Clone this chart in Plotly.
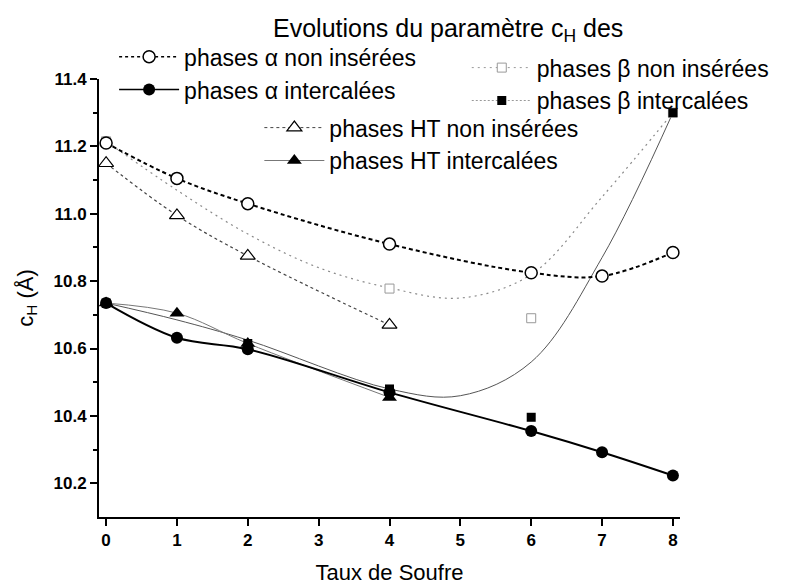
import plotly.graph_objects as go

# Taux de soufre et parametre c_H (Å)
x_alpha = [0, 1, 2, 4, 6, 7, 8]
alpha_non = [11.21, 11.105, 11.03, 10.91, 10.825, 10.815, 10.885]
alpha_int = [10.735, 10.632, 10.598, 10.47, 10.355, 10.292, 10.223]

x_beta_non = [0, 4, 6, 8]
beta_non = [11.215, 10.778, 10.69, 11.30]
x_beta_int = [0, 2, 4, 6, 8]
beta_int = [10.735, 10.615, 10.48, 10.396, 11.30]

# courbes lissees (B-spline du logiciel d'origine)
x_beta_non_curve = [0, 1, 2, 3, 4, 5, 6, 7, 8]
beta_non_curve = [11.215, 11.07, 10.94, 10.84, 10.78, 10.75, 10.82, 11.05, 11.30]
x_beta_int_curve = [0, 1, 2, 4, 5, 6, 7, 8]
beta_int_curve = [10.735, 10.685, 10.625, 10.48, 10.46, 10.56, 10.87, 11.30]

x_ht = [0, 1, 2, 4]
ht_non = [11.15, 10.995, 10.875, 10.67]
ht_int = [10.735, 10.705, 10.615, 10.455]

FONT = "Liberation Sans, Arial, sans-serif"

fig = go.Figure()

# --- courbes ---
fig.add_trace(go.Scatter(x=x_beta_non_curve, y=beta_non_curve, mode='lines', line_shape='spline',
                         line=dict(color='#8a8a8a', width=1.2, dash='2px,4px'), showlegend=False))
fig.add_trace(go.Scatter(x=x_beta_int_curve, y=beta_int_curve, mode='lines', line_shape='spline',
                         line=dict(color='#555555', width=1), showlegend=False))
fig.add_trace(go.Scatter(x=x_ht, y=ht_non, mode='lines', line_shape='spline',
                         line=dict(color='#444444', width=1.2, dash='3px,3px'), showlegend=False))
fig.add_trace(go.Scatter(x=x_ht, y=ht_int, mode='lines', line_shape='spline',
                         line=dict(color='#777777', width=1), showlegend=False))
fig.add_trace(go.Scatter(x=x_alpha, y=alpha_non, mode='lines', line_shape='spline',
                         line=dict(color='black', width=2, dash='4px,3px'), showlegend=False))
fig.add_trace(go.Scatter(x=x_alpha, y=alpha_int, mode='lines', line_shape='spline',
                         line=dict(color='black', width=2), showlegend=False))

# --- marqueurs ---
fig.add_trace(go.Scatter(x=x_beta_non, y=beta_non, mode='markers', showlegend=False,
                         marker=dict(symbol='square', size=9, color='white', line=dict(color='#999999', width=1))))
fig.add_trace(go.Scatter(x=x_ht, y=ht_non, mode='markers', showlegend=False,
                         marker=dict(symbol='triangle-up', size=13, color='white', line=dict(color='black', width=1.2))))
fig.add_trace(go.Scatter(x=x_alpha, y=alpha_non, mode='markers', showlegend=False,
                         marker=dict(symbol='circle', size=12, color='white', line=dict(color='black', width=1.5))))
fig.add_trace(go.Scatter(x=x_ht, y=ht_int, mode='markers', showlegend=False,
                         marker=dict(symbol='triangle-up', size=13, color='black')))
fig.add_trace(go.Scatter(x=x_alpha, y=alpha_int, mode='markers', showlegend=False,
                         marker=dict(symbol='circle', size=12, color='black')))
fig.add_trace(go.Scatter(x=x_beta_int, y=beta_int, mode='markers', showlegend=False,
                         marker=dict(symbol='square', size=9, color='black')))

# --- entrees de legende ---
def entree(nom, leg, ligne, marqueur):
    fig.add_trace(go.Scatter(x=[None], y=[None], mode='lines+markers', name=nom, legend=leg,
                             line=ligne, marker=marqueur))

entree('phases α non insérées', 'legend', dict(color='black', width=1.5, dash='3px,3px'),
       dict(symbol='circle', size=12, color='white', line=dict(color='black', width=1.5)))
entree('phases α intercalées', 'legend', dict(color='black', width=1.5),
       dict(symbol='circle', size=12, color='black'))
entree('phases β non insérées', 'legend2', dict(color='#999999', width=1, dash='2px,4px'),
       dict(symbol='square', size=9, color='white', line=dict(color='#999999', width=1)))
entree('phases β intercalées', 'legend2', dict(color='#999999', width=1, dash='2px,2px'),
       dict(symbol='square', size=9, color='black'))
entree('phases HT non insérées', 'legend3', dict(color='#444444', width=1, dash='3px,3px'),
       dict(symbol='triangle-up', size=13, color='white', line=dict(color='black', width=1.2)))
entree('phases HT intercalées', 'legend3', dict(color='#777777', width=1),
       dict(symbol='triangle-up', size=13, color='black'))

leg_style = dict(font=dict(family=FONT, size=23, color='black'), bgcolor='rgba(0,0,0,0)',
                 itemwidth=60, tracegroupgap=0, traceorder='normal', yanchor='top', xanchor='left')

# la page ajoute une marge de 8 px autour de la figure
fig.update_layout(
    width=791, height=584,
    paper_bgcolor='white', plot_bgcolor='white',
    margin=dict(l=91, r=119, t=71, b=75, autoexpand=False),
    font=dict(family=FONT, color='black'),
    legend=dict(x=0.026, y=1.1, **leg_style),
    legend2=dict(x=0.633, y=1.075, **leg_style),
    legend3=dict(x=0.276, y=0.938, **leg_style),
    annotations=[dict(text='Evolutions du paramètre c<sub>H</sub> des', x=0.6, y=1.07,
                      xref='paper', yref='paper', xanchor='center', yanchor='bottom', showarrow=False,
                      font=dict(family=FONT, size=25, color='black'))],
)

fig.update_xaxes(range=[-0.1, 8.1], tickvals=[0, 1, 2, 3, 4, 5, 6, 7, 8],
                 showgrid=False, zeroline=False, showline=True, linecolor='black', linewidth=2,
                 ticks='outside', ticklen=7, tickwidth=2, tickcolor='black',
                 tickfont=dict(family=FONT, size=17, color='black', weight='bold'),
                 title=dict(text='Taux de Soufre', font=dict(family=FONT, size=22), standoff=15))
fig.update_yaxes(range=[10.1, 11.4], tickvals=[10.2, 10.4, 10.6, 10.8, 11.0, 11.2, 11.4],
                 tickformat='.1f',
                 showgrid=False, zeroline=False, showline=True, linecolor='black', linewidth=2,
                 ticks='outside', ticklen=7, tickwidth=2, tickcolor='black',
                 minor=dict(tickvals=[10.3, 10.5, 10.7, 10.9, 11.1, 11.3], ticks='outside',
                            ticklen=4, tickwidth=2, tickcolor='black'),
                 tickfont=dict(family=FONT, size=17, color='black', weight='bold'),
                 title=dict(text='c<sub>H</sub> (Å)', font=dict(family=FONT, size=22), standoff=14))

fig.write_html("out.html")
